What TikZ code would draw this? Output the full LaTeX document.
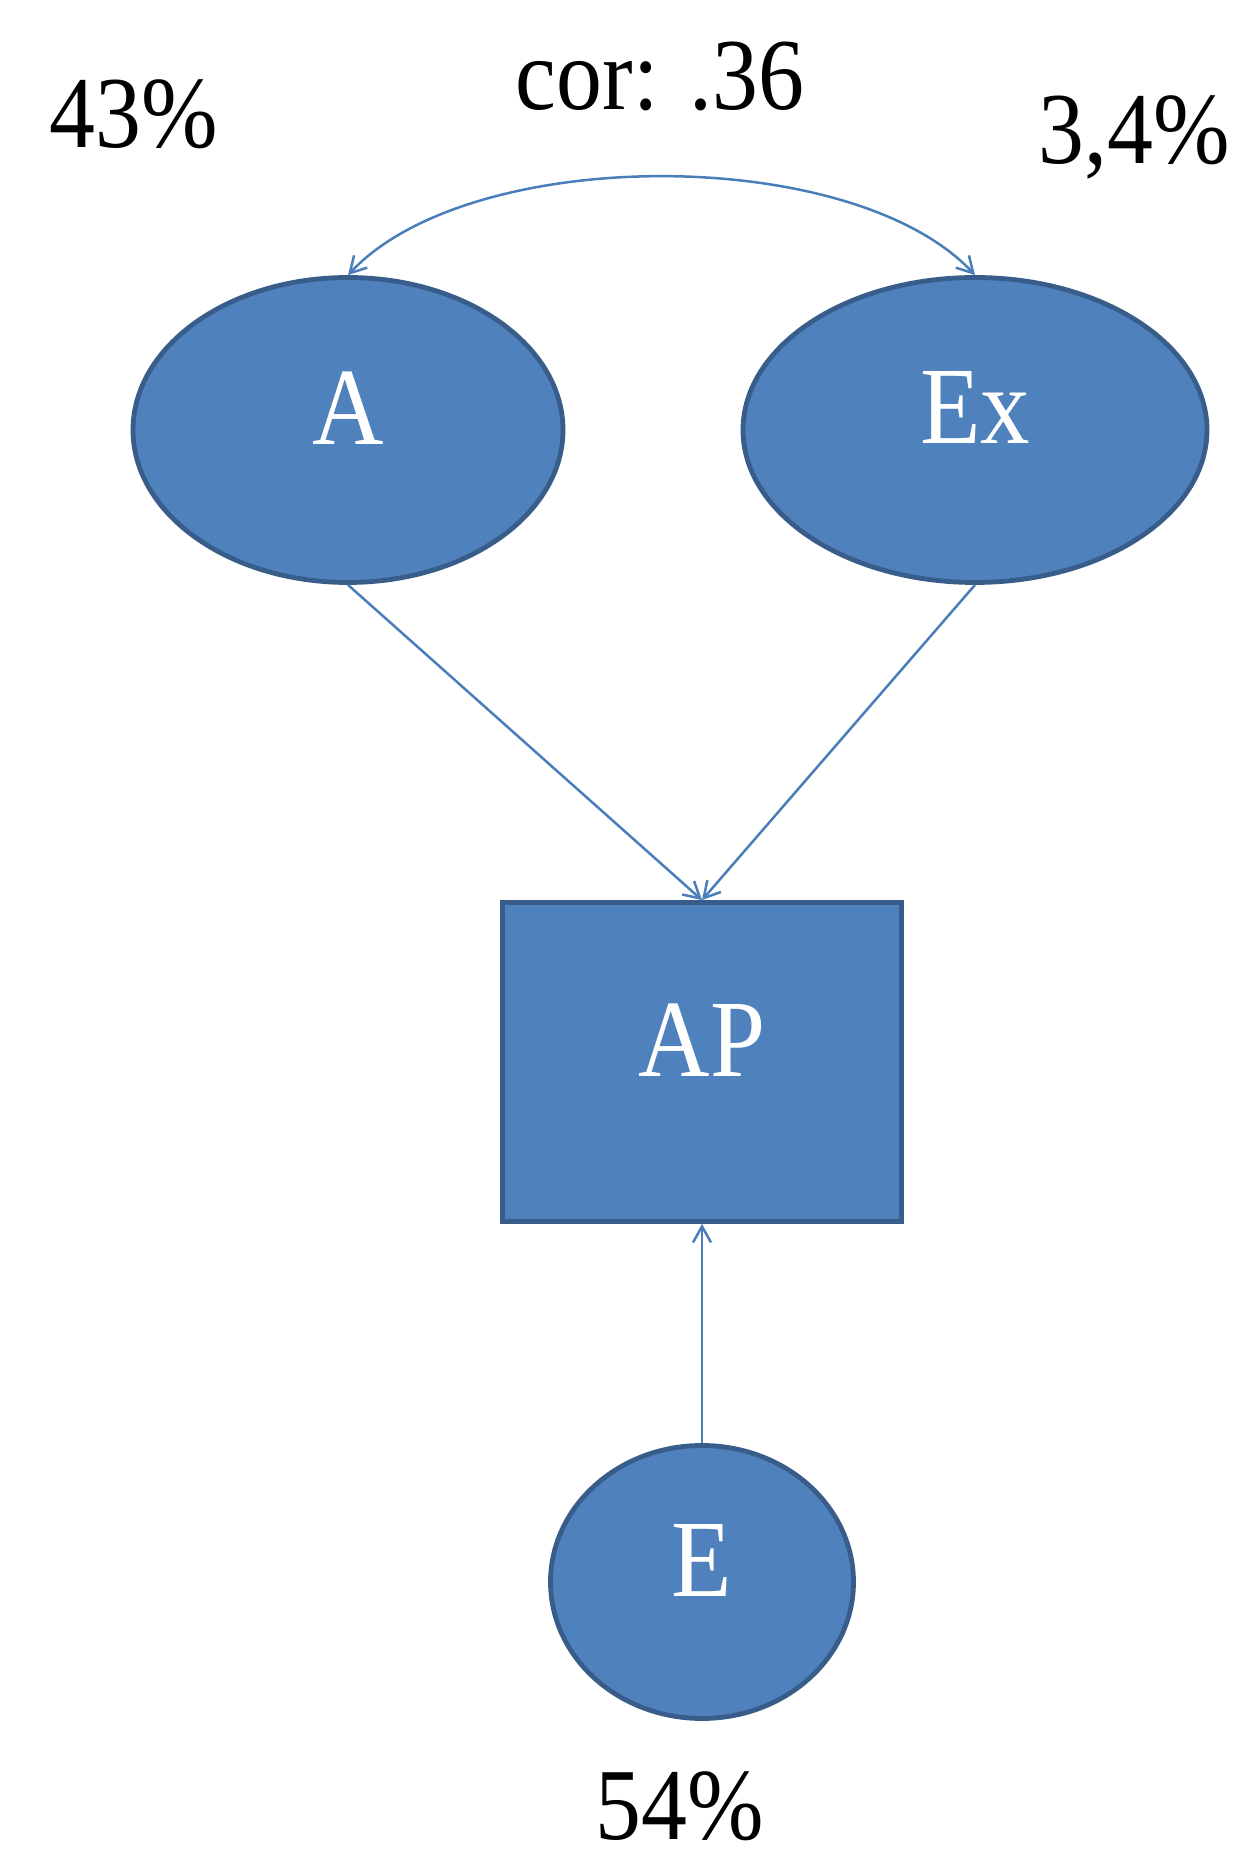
\documentclass[tikz,border=0pt]{standalone}
\usepackage{fontspec}
\setmainfont[FakeStretch=0.9]{Liberation Serif}
\usetikzlibrary{shapes.geometric,arrows.meta}
\definecolor{shapefill}{HTML}{4F81BD}
\definecolor{shapeline}{HTML}{385D8A}
\definecolor{pathline}{HTML}{4A7EBB}
\tikzset{
    latent/.style={ellipse,draw=shapeline,fill=shapefill,line width=2.4pt,inner sep=0pt},
    observed/.style={rectangle,draw=shapeline,fill=shapefill,line width=2.4pt,inner sep=0pt},
    varname/.style={text=white,font=\fontsize{55}{60}\selectfont,yshift=11pt},
    pct/.style={anchor=base,inner sep=0pt,font=\fontsize{51}{56}\selectfont},
    effect/.style={draw=pathline,line width=1.25pt,-{Straight Barb[length=8pt,width=9pt]}}
}
\begin{document}
\begin{tikzpicture}[x=0.5pt,y=0.5pt]
            \useasboundingbox (0,0) rectangle (1234,1854);
            % predictors
            \node[latent,minimum width=215pt,minimum height=152.5pt,label={[varname]center:A}] (A) at (348,1424) {};
            \node[latent,minimum width=232pt,minimum height=152.5pt,label={[varname]center:Ex}] (Ex) at (975,1424) {};
            % outcome and error
            \node[observed,minimum width=199.5pt,minimum height=159.5pt,label={[varname]center:AP}] (AP) at (702,792) {};
            \node[latent,minimum width=151.5pt,minimum height=136.5pt,label={[varname]center:E}] (E) at (702,272) {};
            % percentages
            \node[pct] (cor) at (660,1744) {cor: .36};
            \node[pct] (pA) at (134,1706) {43\%};
            \node[pct] (pEx) at (1134,1690) {3,4\%};
            \node[pct] (pE) at (680,14) {54\%};
            % paths
            \draw[effect,{Straight Barb[length=8pt,width=9pt]}-{Straight Barb[length=8pt,width=9pt]}] (A.north) .. controls +(122,131) and +(-122,131) .. (Ex.north);
            \draw[effect] (A.south) -- (AP.north);
            \draw[effect] (Ex.south) -- (AP.north);
            \draw[effect] (E.north) -- (AP.south);
        \end{tikzpicture}
\end{document}
